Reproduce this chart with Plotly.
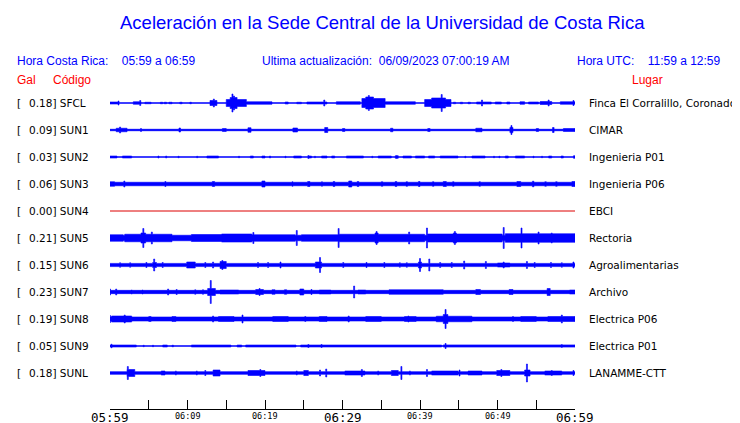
import plotly.graph_objects as go

# ---------------- data ----------------
stations = ["SFCL", "SUN1", "SUN2", "SUN3", "SUN4", "SUN5", "SUN6", "SUN7", "SUN8", "SUN9", "SUNL"]
gal_max = ["0.18", "0.09", "0.03", "0.06", "0.00", "0.21", "0.15", "0.23", "0.19", "0.05", "0.18"]
places = ["Finca El Corralillo, Coronado", "CIMAR", "Ingenieria P01", "Ingenieria P06", "EBCI",
          "Rectoria", "Agroalimentarias", "Archivo", "Electrica P06", "Electrica P01", "LANAMME-CTT"]
trace_colors = ["#0000ff"] * 4 + ["#dd0000"] + ["#0000ff"] * 6

# time axis: minutes after 05:59 (local)
tick_minutes = [0, 10, 20, 30, 40, 50, 60]
tick_labels = ["05:59", "06:09", "06:19", "06:29", "06:39", "06:49", "06:59"]
tick_big = [True, False, False, True, False, False, True]
minor_ticks = [0, 5, 10, 15, 20, 25, 30, 35, 40, 45, 50, 55, 60]

# background noise half-amplitude (Gal) per station
base_amp = [0.0, 0.015, 0.0, 0.035, 0.0, 0.055, 0.032, 0.033, 0.04, 0.0, 0.027]

# envelope events per station: (start minute, end minute, half-amplitude Gal); start==end -> single spike
ev_SFCL = [(0.0, 1.0, 0.02), (1.1, 1.1, 0.04), (3.0, 4.0, 0.025), (3.9, 3.9, 0.05), (4.5, 5.3, 0.015),
           (6.5, 6.8, 0.015), (7.0, 7.3, 0.015), (7.6, 8.0, 0.015), (9.0, 9.3, 0.015), (10.3, 10.5, 0.015),
           (12.9, 13.8, 0.05), (13.4, 13.4, 0.08),
           (15.0, 15.5, 0.07), (15.5, 16.4, 0.11), (15.8, 15.8, 0.18), (16.0, 16.0, 0.14), (16.4, 17.6, 0.07),
           (17.6, 20.9, 0.025), (22.6, 23.0, 0.02), (24.1, 24.7, 0.015), (25.4, 28.0, 0.02), (27.6, 27.7, 0.06),
           (29.2, 32.3, 0.025), (32.5, 35.5, 0.09), (33.0, 34.0, 0.12), (33.4, 33.4, 0.15), (35.5, 39.4, 0.025),
           (40.6, 44.0, 0.07), (41.5, 43.3, 0.1), (42.8, 42.8, 0.17),
           (44.3, 44.6, 0.015), (45.2, 45.5, 0.015), (46.2, 46.5, 0.015),
           (47.3, 49.2, 0.02), (48.0, 48.0, 0.06), (49.7, 50.5, 0.02), (51.2, 51.6, 0.02), (52.9, 53.5, 0.025),
           (54.0, 55.3, 0.02), (55.5, 57.0, 0.03), (56.6, 56.6, 0.06), (58.1, 60.0, 0.025), (59.8, 59.8, 0.05)]
ev_SUN1 = [(0.8, 2.2, 0.035), (1.3, 1.3, 0.06), (4.0, 4.0, 0.03), (8.9, 9.1, 0.04), (14.5, 15.0, 0.03),
           (17.8, 18.2, 0.045), (23.6, 24.2, 0.04), (27.7, 28.1, 0.05), (30.0, 30.3, 0.03), (36.2, 36.5, 0.035),
           (41.0, 41.3, 0.03), (47.2, 48.0, 0.035), (51.6, 52.0, 0.05), (51.8, 51.8, 0.09), (55.0, 55.3, 0.03),
           (57.1, 57.3, 0.05), (58.5, 60.0, 0.03)]
ev_SUN2 = [(0.0, 0.9, 0.02), (1.6, 2.8, 0.02), (6.2, 6.3, 0.02), (7.2, 7.3, 0.02), (8.8, 8.9, 0.015),
           (11.2, 11.3, 0.015), (12.5, 14.0, 0.02), (16.6, 16.7, 0.015), (18.1, 18.5, 0.02), (19.6, 20.0, 0.02),
           (20.6, 20.7, 0.02), (22.6, 22.7, 0.015), (23.7, 24.7, 0.02), (25.6, 26.0, 0.02), (25.6, 25.6, 0.03),
           (26.4, 26.5, 0.015), (27.3, 28.0, 0.02), (28.6, 29.0, 0.02), (30.5, 32.7, 0.02), (33.8, 33.9, 0.015),
           (34.6, 36.3, 0.02), (36.8, 37.2, 0.025), (37.0, 37.0, 0.03), (37.8, 38.9, 0.02), (39.4, 40.6, 0.02),
           (41.1, 41.9, 0.02), (42.6, 44.9, 0.02), (45.8, 45.9, 0.015), (46.7, 48.4, 0.02), (49.5, 49.6, 0.015),
           (50.2, 50.3, 0.015), (51.0, 51.4, 0.02), (52.3, 53.5, 0.02), (54.6, 54.7, 0.015), (55.7, 55.8, 0.015),
           (56.6, 57.0, 0.02), (58.2, 58.5, 0.02), (59.8, 60.0, 0.025)]
ev_SUN3 = [(0.0, 0.6, 0.045), (1.8, 1.9, 0.06), (7.1, 7.2, 0.05), (13.2, 13.5, 0.05), (19.6, 20.0, 0.06),
           (23.5, 23.6, 0.045), (25.5, 25.8, 0.05), (27.3, 27.4, 0.045), (28.8, 29.0, 0.05), (30.8, 31.2, 0.06),
           (31.9, 32.1, 0.05), (35.0, 35.2, 0.045), (36.8, 37.0, 0.05), (38.2, 38.4, 0.045), (39.8, 40.0, 0.05),
           (41.6, 41.8, 0.045), (43.0, 43.4, 0.05), (44.2, 44.4, 0.045), (47.6, 47.8, 0.045), (52.5, 53.0, 0.05),
           (54.5, 54.7, 0.055), (56.1, 56.3, 0.045), (57.5, 57.7, 0.045), (59.6, 60.0, 0.05)]
ev_SUN4 = []
ev_SUN5 = [(0.0, 1.7, 0.065), (1.9, 8.0, 0.075), (4.0, 4.6, 0.1), (4.3, 4.3, 0.19), (5.4, 5.4, 0.12),
           (10.5, 14.4, 0.07), (14.4, 18.3, 0.08), (18.5, 18.5, 0.11), (18.3, 23.9, 0.065), (24.1, 24.1, 0.15),
           (24.7, 29.5, 0.065), (29.5, 29.5, 0.19), (29.5, 33.8, 0.075), (34.2, 34.6, 0.1), (34.4, 34.4, 0.13),
           (33.8, 40.6, 0.075), (38.6, 38.6, 0.12), (40.9, 40.9, 0.2), (41.0, 50.6, 0.08), (44.3, 44.7, 0.1),
           (44.5, 44.5, 0.13), (50.8, 50.8, 0.21), (51.0, 60.0, 0.085), (53.1, 53.1, 0.2), (55.3, 55.3, 0.12),
           (57.0, 57.0, 0.1)]
ev_SUN6 = [(1.3, 1.3, 0.045), (2.6, 2.6, 0.045), (4.7, 4.7, 0.05), (5.7, 5.7, 0.12), (5.5, 6.0, 0.05),
           (6.8, 6.8, 0.05), (9.9, 11.0, 0.06), (12.3, 12.3, 0.05), (13.3, 13.3, 0.06), (14.2, 15.0, 0.07),
           (14.5, 14.5, 0.09), (19.1, 19.1, 0.05), (20.4, 20.4, 0.05), (22.0, 22.0, 0.06), (26.5, 27.3, 0.06),
           (27.1, 27.1, 0.15), (30.1, 30.1, 0.05), (33.1, 33.1, 0.05), (35.4, 35.4, 0.05), (37.4, 37.4, 0.045),
           (38.3, 38.3, 0.045), (39.8, 40.2, 0.06), (40.0, 40.0, 0.13), (41.2, 41.2, 0.12), (42.6, 42.6, 0.05),
           (44.1, 44.1, 0.05), (45.7, 45.7, 0.08), (48.5, 48.5, 0.07), (50.0, 51.6, 0.04), (50.8, 50.8, 0.06),
           (53.8, 53.8, 0.07), (54.8, 54.8, 0.05), (56.9, 56.9, 0.05), (58.3, 58.3, 0.045), (59.8, 59.8, 0.06)]
ev_SUN7 = [(0.0, 0.0, 0.06), (0.8, 0.8, 0.06), (2.8, 2.8, 0.04), (4.2, 4.2, 0.04), (7.5, 7.5, 0.06),
           (8.6, 8.6, 0.05), (11.0, 11.0, 0.045), (12.0, 12.0, 0.045), (12.6, 13.6, 0.07), (13.0, 13.0, 0.23),
           (14.2, 16.6, 0.04), (18.8, 19.8, 0.05), (19.3, 19.3, 0.07), (20.9, 21.3, 0.045), (22.5, 22.8, 0.045),
           (24.5, 25.0, 0.06), (26.0, 26.0, 0.05), (27.0, 28.5, 0.04), (31.5, 31.5, 0.12), (32.0, 33.0, 0.04),
           (36.0, 43.0, 0.045), (47.2, 47.8, 0.05), (51.5, 52.0, 0.05), (56.4, 56.8, 0.07), (59.3, 60.0, 0.04)]
ev_SUN8 = [(0.0, 0.0, 0.07), (0.2, 2.8, 0.06), (1.9, 1.9, 0.08), (5.0, 5.3, 0.05), (8.0, 8.5, 0.05),
           (13.3, 13.3, 0.06), (14.0, 16.0, 0.05), (17.1, 17.1, 0.08), (21.0, 23.0, 0.05), (25.2, 25.2, 0.05),
           (27.0, 28.0, 0.05), (30.8, 30.8, 0.06), (33.0, 35.0, 0.05), (38.5, 38.5, 0.06), (38.0, 39.5, 0.05),
           (42.1, 46.7, 0.055), (43.3, 43.3, 0.19), (43.0, 43.6, 0.09), (52.0, 52.0, 0.05), (53.0, 55.0, 0.05),
           (58.3, 58.3, 0.08), (56.5, 60.0, 0.05)]
ev_SUN9 = [(0.0, 3.4, 0.02), (0.2, 0.2, 0.035), (4.3, 4.4, 0.015), (5.5, 5.6, 0.015), (6.8, 7.4, 0.02),
           (8.0, 8.2, 0.015), (10.5, 15.6, 0.02), (16.4, 17.0, 0.02), (17.5, 24.0, 0.02), (24.6, 42.8, 0.02),
           (25.6, 25.6, 0.03), (27.3, 27.3, 0.03), (43.0, 60.0, 0.022), (43.3, 43.3, 0.05), (58.3, 58.3, 0.03)]
ev_SUNL = [(2.2, 3.2, 0.07), (2.3, 2.3, 0.13), (6.6, 7.1, 0.04), (8.5, 8.5, 0.04), (11.2, 11.2, 0.04),
           (12.3, 12.3, 0.05), (13.3, 14.2, 0.06), (17.8, 20.0, 0.05), (19.4, 19.4, 0.07), (24.1, 24.1, 0.04),
           (25.0, 25.6, 0.05), (27.1, 27.1, 0.06), (27.9, 27.9, 0.08), (30.3, 32.9, 0.04), (32.5, 32.5, 0.07),
           (34.6, 34.6, 0.04), (36.3, 37.2, 0.05), (37.6, 37.6, 0.13), (38.7, 38.7, 0.04), (40.9, 40.9, 0.07),
           (41.5, 44.9, 0.04), (45.1, 45.1, 0.06), (46.2, 48.0, 0.04), (49.9, 51.6, 0.05), (50.5, 50.5, 0.07),
           (53.8, 53.8, 0.18), (53.5, 54.2, 0.06), (56.1, 58.3, 0.04), (57.0, 57.0, 0.05), (59.8, 59.8, 0.05)]
events = [ev_SFCL, ev_SUN1, ev_SUN2, ev_SUN3, ev_SUN4, ev_SUN5, ev_SUN6, ev_SUN7, ev_SUN8, ev_SUN9, ev_SUNL]

# ---------------- layout helpers ----------------
OFF = 8                                     # page body margin of the html page
W, H = 740 - OFF, 423 - OFF
PL, PR, PT, PB = 110 - OFF, 575 - OFF, 90 - OFF, 409 - OFF   # plot area in figure pixels
GAL_PER_PX = 0.02                           # vertical scale (Gal per pixel)
Y_TOP = (PB - PT) * GAL_PER_PX
ROW0_PX, ROW_STEP_PX = 103 - OFF, 27


def row_center(i):
    return (PB - (ROW0_PX + ROW_STEP_PX * i)) * GAL_PER_PX


def xp(px):
    """screen pixel x -> paper"""
    return (px - OFF - PL) / (PR - PL)


def yp(py):
    """screen pixel y -> paper"""
    return (PB - (py - OFF)) / (PB - PT)


def envelope(base, evs):
    segs = []
    for t0, t1, a in evs:
        if t1 - t0 < 0.13:
            m = (t0 + t1) / 2
            t0, t1 = m - 0.065, m + 0.065
        segs.append((max(0.0, t0), min(60.0, t1), a))
    edges = sorted(set([0.0, 60.0] + [s[0] for s in segs] + [s[1] for s in segs]))
    xs, amps = [], []
    for e0, e1 in zip(edges[:-1], edges[1:]):
        mid = (e0 + e1) / 2
        a = base
        for s0, s1, sa in segs:
            if s0 <= mid < s1:
                a = max(a, sa)
        xs += [e0, e1]
        amps += [a, a]
    return xs, amps


fig = go.Figure()
for i, st in enumerate(stations):
    c = row_center(i)
    col = trace_colors[i]
    xs, amps = envelope(base_amp[i], events[i])
    if max(amps) > 0:
        up = [c + a for a in amps]
        lo = [c - a for a in amps]
        fig.add_trace(go.Scatter(x=xs + xs[::-1], y=up + lo[::-1], mode="lines", fill="toself",
                                 fillcolor=col, line=dict(color=col, width=0.6, simplify=False),
                                 hoverinfo="skip", showlegend=False))
    fig.add_trace(go.Scatter(x=[0, 60], y=[c, c], mode="lines",
                             line=dict(color=col, width=1, simplify=False),
                             hoverinfo="skip", showlegend=False))

ann = []
# title and header
ann.append(dict(x=xp(382), y=yp(22), text="Aceleración en la Sede Central de la Universidad de Costa Rica",
                font=dict(family="Liberation Sans, Arial", size=18.5, color="#0000ff"),
                xanchor="center", yanchor="middle"))
hdr = dict(family="Liberation Sans, Arial", size=12, color="#0000ff")
ann.append(dict(x=xp(15), y=yp(61), text="Hora Costa Rica:&nbsp;&nbsp;&nbsp; 05:59 a 06:59", font=hdr,
                xanchor="left", yanchor="middle"))
ann.append(dict(x=xp(260), y=yp(61), text="Ultima actualización:&nbsp; 06/09/2023 07:00:19 AM", font=hdr,
                xanchor="left", yanchor="middle"))
ann.append(dict(x=xp(723), y=yp(61), text="Hora UTC:&nbsp;&nbsp;&nbsp; 11:59 a 12:59", font=hdr,
                xanchor="right", yanchor="middle"))
red = dict(family="Liberation Sans, Arial", size=12, color="#ff0000")
ann.append(dict(x=xp(15), y=yp(80), text="Gal", font=red, xanchor="left", yanchor="middle"))
ann.append(dict(x=xp(51), y=yp(80), text="Código", font=red, xanchor="left", yanchor="middle"))
ann.append(dict(x=xp(630), y=yp(80), text="Lugar", font=red, xanchor="left", yanchor="middle"))

lab = dict(family="DejaVu Sans", size=10.5, color="#000000")
for i, st in enumerate(stations):
    yc = yp(103 + ROW_STEP_PX * i)
    ann.append(dict(x=xp(15), y=yc, text="[", font=lab, xanchor="left", yanchor="middle"))
    ann.append(dict(x=xp(27), y=yc, text=f"{gal_max[i]}] {st}", font=lab, xanchor="left", yanchor="middle"))
    ann.append(dict(x=xp(587), y=yc, text=places[i], font=lab, xanchor="left", yanchor="middle"))

for m, t, big in zip(tick_minutes, tick_labels, tick_big):
    ann.append(dict(x=m, xref="x", y=0, yref="paper", text=t,
                    font=dict(family="DejaVu Sans Mono", size=12.5 if big else 8.5, color="#000000"),
                    xanchor="center", yanchor="middle", yshift=-8 if big else -7))

for a in ann:
    a.setdefault("xref", "paper")
    a.setdefault("yref", "paper")
    a["showarrow"] = False

fig.update_layout(
    width=W, height=H, margin=dict(l=PL, r=W - PR, t=PT, b=H - PB, pad=0),
    paper_bgcolor="white", plot_bgcolor="white",
    annotations=ann,
    xaxis=dict(range=[0, 60], showgrid=False, zeroline=False, showline=True, linecolor="black",
               linewidth=1, ticks="inside", ticklen=9, tickcolor="black", tickwidth=1,
               tickvals=minor_ticks, showticklabels=False, fixedrange=True),
    yaxis=dict(range=[0, Y_TOP], visible=False, fixedrange=True),
)
fig.write_html("out.html")
